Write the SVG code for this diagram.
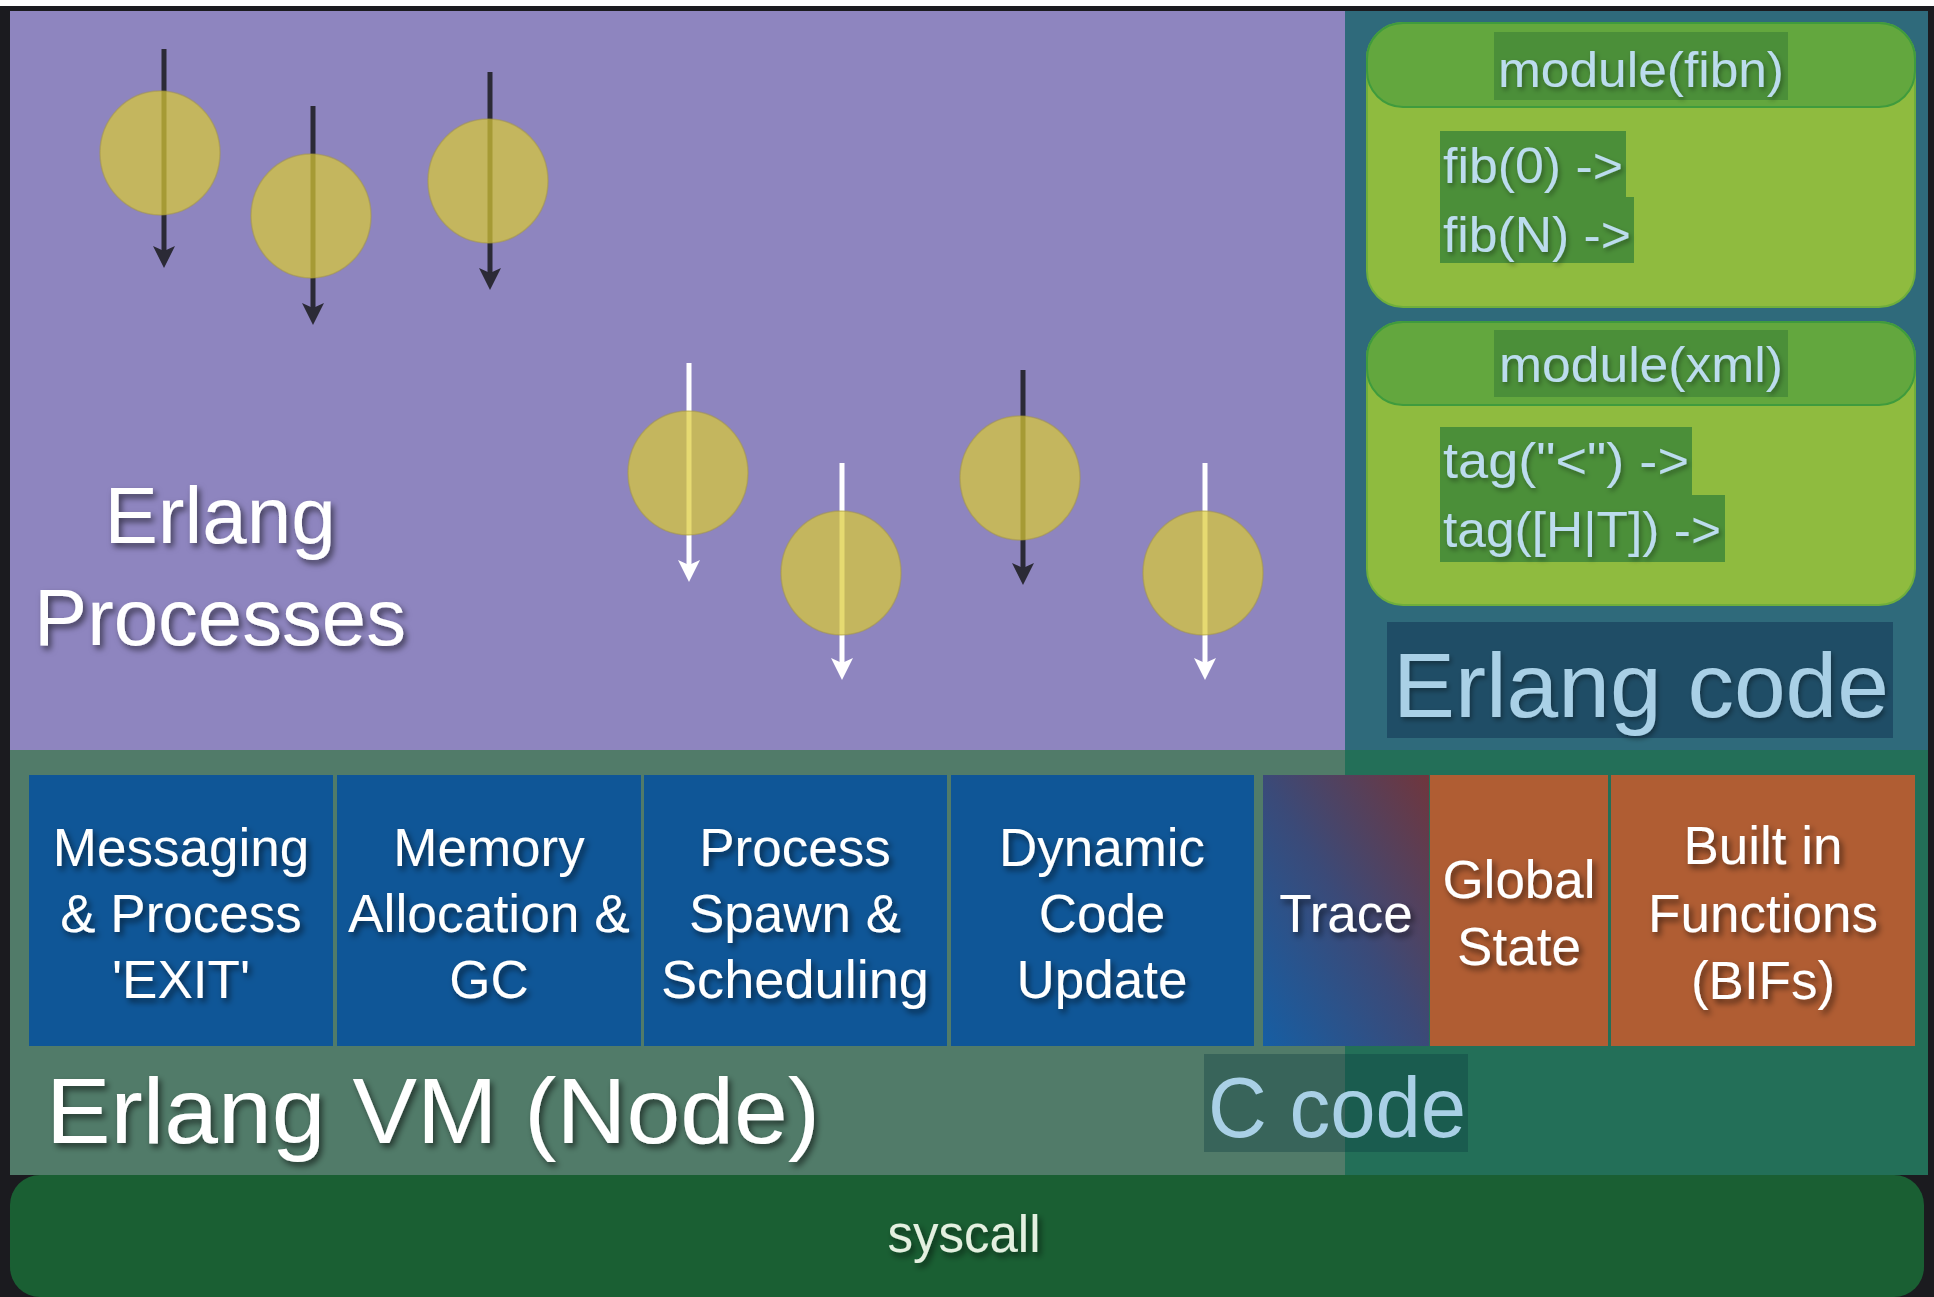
<svg xmlns="http://www.w3.org/2000/svg" width="1934" height="1297" viewBox="0 0 1934 1297">
<defs>
<style>
.t{font-family:"Liberation Sans",Arial,Helvetica,sans-serif}
.w{fill:#ffffff;filter:url(#sh)}
.box{font-size:53px;text-anchor:middle}
.code{fill:#bcdcee;font-size:50px;filter:url(#sh2)}
.hl{fill:#4b8f39}
.mbody{fill:#8fbb3f;stroke:#6fae3c;stroke-width:2}
.mhead{fill:#63a73e;stroke:#3f9b3d;stroke-width:2}
.blue{fill:#0f5697}
.orange{fill:#b05d33}
.proc{fill:#dbcb34;fill-opacity:0.7;stroke:#a89a40;stroke-opacity:0.5;stroke-width:1.5}
.arD{stroke:#2b2a36;stroke-width:5;fill:none}
.arW{stroke:#ffffff;stroke-width:5;fill:none}
.lbl{fill:#a9d0e6}
</style>
<filter id="sh" x="-10%" y="-20%" width="130%" height="160%">
<feDropShadow dx="3" dy="4" stdDeviation="3" flood-color="#000" flood-opacity="0.55"/>
</filter>
<filter id="sh2" x="-10%" y="-20%" width="130%" height="160%">
<feDropShadow dx="2" dy="3" stdDeviation="2.5" flood-color="#000" flood-opacity="0.35"/>
</filter>
<marker id="mD" markerUnits="userSpaceOnUse" markerWidth="24" markerHeight="24" refX="8" refY="11" orient="auto">
<path d="M0,0 L22,11 L0,22 L5,11 Z" fill="#2b2a36"/>
</marker>
<marker id="mW" markerUnits="userSpaceOnUse" markerWidth="24" markerHeight="24" refX="8" refY="11" orient="auto">
<path d="M0,0 L22,11 L0,22 L5,11 Z" fill="#ffffff"/>
</marker>
<linearGradient id="traceG" x1="0" y1="1" x2="1" y2="0">
<stop offset="0" stop-color="#165ea3"/>
<stop offset="0.5" stop-color="#3b4a78"/>
<stop offset="1" stop-color="#70363d"/>
</linearGradient>
</defs>

<rect x="0" y="0" width="1934" height="1297" fill="#ffffff"/>
<rect x="0" y="6" width="1934" height="1291" fill="#1b1b1f"/>

<g id="processes-area">
<rect x="10" y="11" width="1335" height="739" fill="#8e85bf"/>
</g>
<g id="erlang-code-panel">
<rect x="1345" y="11" width="583" height="739" fill="#2f6a7b"/>
</g>
<g id="vm-layer">
<rect x="10" y="750" width="1335" height="425" fill="#517b69"/>
<rect x="1345" y="750" width="583" height="425" fill="#236f58"/>
</g>

<g id="connectors">
<line class="arD" x1="164" y1="49" x2="164" y2="254" marker-end="url(#mD)"/>
<line class="arD" x1="313" y1="106" x2="313" y2="311" marker-end="url(#mD)"/>
<line class="arD" x1="490" y1="72" x2="490" y2="276" marker-end="url(#mD)"/>
<line class="arW" x1="689" y1="363" x2="689" y2="568" marker-end="url(#mW)"/>
<line class="arW" x1="842" y1="463" x2="842" y2="666" marker-end="url(#mW)"/>
<line class="arD" x1="1023" y1="370" x2="1023" y2="571" marker-end="url(#mD)"/>
<line class="arW" x1="1205" y1="463" x2="1205" y2="666" marker-end="url(#mW)"/>
</g>

<g id="proc1"><ellipse class="proc" cx="160" cy="153" rx="60" ry="62"/></g>
<g id="proc2"><ellipse class="proc" cx="311" cy="216" rx="60" ry="62"/></g>
<g id="proc3"><ellipse class="proc" cx="488" cy="181" rx="60" ry="62"/></g>
<g id="proc4"><ellipse class="proc" cx="688" cy="473" rx="60" ry="62"/></g>
<g id="proc5"><ellipse class="proc" cx="841" cy="573" rx="60" ry="62"/></g>
<g id="proc6"><ellipse class="proc" cx="1020" cy="478" rx="60" ry="62"/></g>
<g id="proc7"><ellipse class="proc" cx="1203" cy="573" rx="60" ry="62"/></g>

<g id="label-erlang-processes" class="t">
<text class="w" x="220" y="543" font-size="80" text-anchor="middle">Erlang</text>
<text class="w" x="220" y="645" font-size="80" text-anchor="middle" textLength="372" lengthAdjust="spacingAndGlyphs">Processes</text>
</g>

<g id="module-fibn" class="t">
<rect class="mbody" x="1367" y="23" width="548" height="284" rx="36"/>
<rect class="mhead" x="1367" y="23" width="548" height="84" rx="36"/>
<rect class="hl" x="1494" y="32" width="294" height="68"/>
<text class="code" x="1641" y="87" font-size="48" text-anchor="middle" textLength="286" lengthAdjust="spacingAndGlyphs">module(fibn)</text>
<rect class="hl" x="1440" y="131" width="186" height="66"/>
<rect class="hl" x="1440" y="197" width="194" height="66"/>
<text class="code" x="1443" y="183" textLength="180" lengthAdjust="spacingAndGlyphs">fib(0) -&gt;</text>
<text class="code" x="1443" y="252" textLength="188" lengthAdjust="spacingAndGlyphs">fib(N) -&gt;</text>
</g>

<g id="module-xml" class="t">
<rect class="mbody" x="1367" y="322" width="548" height="283" rx="36"/>
<rect class="mhead" x="1367" y="322" width="548" height="83" rx="36"/>
<rect class="hl" x="1494" y="330" width="294" height="67"/>
<text class="code" x="1641" y="382" font-size="48" text-anchor="middle" textLength="284" lengthAdjust="spacingAndGlyphs">module(xml)</text>
<rect class="hl" x="1440" y="427" width="252" height="68"/>
<rect class="hl" x="1440" y="495" width="285" height="67"/>
<text class="code" x="1443" y="478" textLength="246" lengthAdjust="spacingAndGlyphs">tag("&lt;") -&gt;</text>
<text class="code" x="1443" y="547" textLength="278" lengthAdjust="spacingAndGlyphs">tag([H|T]) -&gt;</text>
</g>

<g id="label-erlang-code" class="t">
<rect x="1387" y="622" width="506" height="116" fill="#1f4d66"/>
<text class="lbl" x="1393" y="717" font-size="90" textLength="496" lengthAdjust="spacingAndGlyphs" filter="url(#sh2)">Erlang code</text>
</g>

<g id="messaging" class="t">
<rect class="blue" x="29" y="775" width="304" height="271"/>
<text class="w box" x="181" y="866">Messaging</text>
<text class="w box" x="181" y="932">&amp; Process</text>
<text class="w box" x="181" y="998">'EXIT'</text>
</g>
<g id="memory" class="t">
<rect class="blue" x="337" y="775" width="304" height="271"/>
<text class="w box" x="489" y="866">Memory</text>
<text class="w box" x="489" y="932" textLength="282" lengthAdjust="spacingAndGlyphs">Allocation &amp;</text>
<text class="w box" x="489" y="998">GC</text>
</g>
<g id="spawn" class="t">
<rect class="blue" x="644" y="775" width="303" height="271"/>
<text class="w box" x="795" y="866">Process</text>
<text class="w box" x="795" y="932">Spawn &amp;</text>
<text class="w box" x="795" y="998" textLength="268" lengthAdjust="spacingAndGlyphs">Scheduling</text>
</g>
<g id="dynamic-code" class="t">
<rect class="blue" x="951" y="775" width="303" height="271"/>
<text class="w box" x="1102" y="866">Dynamic</text>
<text class="w box" x="1102" y="932">Code</text>
<text class="w box" x="1102" y="998">Update</text>
</g>
<g id="trace" class="t">
<rect x="1263" y="775" width="166" height="271" fill="url(#traceG)"/>
<text class="w box" x="1346" y="932">Trace</text>
</g>
<g id="global-state" class="t">
<rect class="orange" x="1430" y="775" width="178" height="271"/>
<text class="w box" x="1519" y="898">Global</text>
<text class="w box" x="1519" y="965">State</text>
</g>
<g id="bifs" class="t">
<rect class="orange" x="1611" y="775" width="304" height="271"/>
<text class="w box" x="1763" y="864">Built in</text>
<text class="w box" x="1763" y="932">Functions</text>
<text class="w box" x="1763" y="999">(BIFs)</text>
</g>

<g id="label-vm" class="t">
<text class="w" x="46" y="1143" font-size="92" textLength="774" lengthAdjust="spacingAndGlyphs">Erlang VM (Node)</text>
</g>
<g id="label-c-code" class="t">
<rect x="1204" y="1054" width="264" height="98" fill="#0b3a40" fill-opacity="0.35"/>
<text class="lbl" x="1208" y="1137" font-size="86" textLength="258" lengthAdjust="spacingAndGlyphs">C code</text>
</g>

<g id="syscall" class="t">
<rect x="10" y="1175" width="1914" height="122" rx="30" fill="#1a5f33"/>
<text x="964" y="1252" font-size="51" text-anchor="middle" fill="#e4f0e0" filter="url(#sh)">syscall</text>
</g>
</svg>
